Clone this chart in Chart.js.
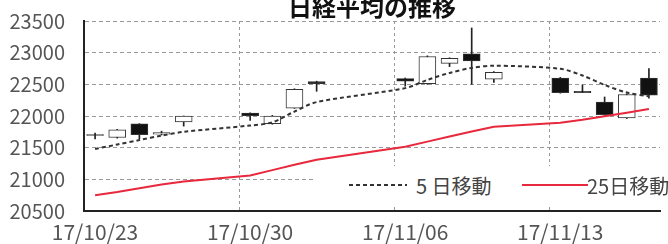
<!DOCTYPE html>
<html>
<head>
<meta charset="utf-8">
<script src="https://cdn.jsdelivr.net/npm/chart.js@4.4.1/dist/chart.umd.min.js"></script>
<style>
html, body { margin:0; padding:0; background:#fff; overflow:hidden; width:668px; height:244px; }
#wrap { position:absolute; left:0; top:-10px; width:668px; height:254px; }
#legend { position:absolute; left:315px; top:166px; width:353px; height:40px; background:#fff;
  font-family:'Noto Sans CJK JP', sans-serif; font-size:20px; color:#444; }
#legend .txt { position:absolute; top:10px; line-height:20px; white-space:nowrap; }
#legend svg { position:absolute; top:17px; }
</style>
</head>
<body>
<div id="wrap"><canvas id="c" width="668" height="254"></canvas></div>
<div id="legend">
  <svg style="left:34px" width="58" height="4"><line x1="0" y1="2" x2="58" y2="2" stroke="#333" stroke-width="2" stroke-dasharray="4,3"/></svg>
  <span class="txt" style="left:101px">5 日移動</span>
  <svg style="left:207px" width="66" height="4"><line x1="0" y1="2" x2="66" y2="2" stroke="#e8283c" stroke-width="2"/></svg>
  <span class="txt" style="left:272px">25日移動</span>
</div>
<script>
// 日足 (2017)
var dates  = ['10/23','10/24','10/25','10/26','10/27','10/30','10/31','11/01','11/02','11/06',
              '11/07','11/08','11/09','11/10','11/13','11/14','11/15','11/16','11/17'];
var openV  = [21705,21660,21875,21715,21906,22045,21880,22125,22545,22590,
              22510,22830,22980,22580,22600,22390,22220,21970,22600];
var highV  = [21730,21790,21880,21760,22000,22050,22010,22430,22550,22600,
              22950,22920,23390,22700,22610,22490,22300,22350,22750];
var lowV   = [21640,21650,21640,21700,21840,21930,21870,22120,22390,22470,
              22500,22780,22500,22530,22360,22370,22010,21960,22280];
var closeV = [21695,21780,21705,21740,22000,22005,22000,22420,22510,22548,
              22940,22910,22870,22690,22370,22370,22020,22340,22330];
var ma5    = [21480,21550,21620,21690,21750,21850,21900,22070,22220,22440,
              22570,22680,22760,22795,22745,22640,22490,22370,22310];
var ma25   = [20750,20800,20860,20920,20965,21060,21145,21230,21310,21515,
              21595,21675,21755,21830,21895,21940,21995,22050,22110];

var yTicks = [20500,21000,21500,22000,22500,23000,23500];
var xTickLabels = ['17/10/23','17/10/30','17/11/06','17/11/13'];

var FONT = "'Noto Sans CJK JP', sans-serif";
var base = Date.UTC(2017, 9, 23);
function dayOf(s) {
    var p = s.split('/');
    return Math.round((Date.UTC(2017, +p[0] - 1, +p[1]) - base) / 86400000);
}
var xs = dates.map(function (d) { return dayOf(d) + 0.5; });
var tickDays = xTickLabels.map(function (l) { return dayOf(l.slice(3)); });

var ctx = document.getElementById('c').getContext('2d');
var myChart = new Chart(ctx, {
    type: 'bar',
    data: {
        datasets: [{
            type: 'bar',
            label: 'wick',
            data: xs.map(function (x, i) { return {x: x, y: [lowV[i], highV[i]]}; }),
            backgroundColor: '#222',
            barThickness: 1,
            grouped: false,
            order: 3
        }, {
            type: 'bar',
            label: 'body',
            data: xs.map(function (x, i) { return {x: x, y: [openV[i], closeV[i]]}; }),
            backgroundColor: function (c) {
                var i = c.dataIndex;
                return closeV[i] >= openV[i] ? '#fff' : '#111';
            },
            borderColor: '#333',
            borderWidth: 1,
            borderSkipped: false,
            barThickness: 17,
            grouped: false,
            order: 2
        }, {
            type: 'line',
            label: '5日移動',
            data: xs.map(function (x, i) { return {x: x, y: ma5[i]}; }),
            borderColor: '#333',
            borderWidth: 2,
            borderDash: [4, 3],
            pointRadius: 0,
            tension: 0.3,
            order: 1
        }, {
            type: 'line',
            label: '25日移動',
            data: xs.map(function (x, i) { return {x: x, y: ma25[i]}; }),
            borderColor: '#e8283c',
            borderWidth: 2,
            pointRadius: 0,
            tension: 0,
            order: 0
        }]
    },
    options: {
        responsive: false,
        animation: false,
        layout: {padding: {left: 0, right: 8, top: 0, bottom: 0}},
        scales: {
            x: {
                type: 'linear',
                min: 0,
                max: 26,
                offset: false,
                afterBuildTicks: function (s) { s.ticks = tickDays.map(function (v) { return {value: v}; }); },
                afterFit: function (s) { s.height = 33; },
                grid: {
                    offset: false,
                    drawTicks: false,
                    color: function (c) { return c.index === 0 ? 'rgba(0,0,0,0)' : '#999'; }
                },
                border: {color: '#222', width: 2, dash: [3, 3]},
                ticks: {
                    padding: 8,
                    labelOffset: 11,
                    autoSkip: false,
                    maxRotation: 0,
                    color: '#555',
                    font: {family: FONT, size: 21},
                    callback: function (v, i) { return xTickLabels[i]; }
                }
            },
            y: {
                min: 20500,
                max: 23500,
                afterBuildTicks: function (s) { s.ticks = yTicks.map(function (v) { return {value: v}; }); },
                afterFit: function (s) { s.width = 84; },
                grid: {
                    drawTicks: false,
                    color: function (c) { return c.index === 0 ? 'rgba(0,0,0,0)' : '#999'; }
                },
                border: {color: '#222', width: 2, dash: [4, 3]},
                ticks: {
                    padding: 19,
                    color: '#555',
                    font: {family: FONT, size: 20},
                    callback: function (v) { return String(v); }
                }
            }
        },
        plugins: {
            legend: {display: false},
            tooltip: {enabled: false},
            title: {
                display: true,
                text: '日経平均の推移',
                fullSize: false,
                color: '#111',
                font: {family: FONT, size: 24, weight: 'bold'},
                padding: {top: 0, bottom: 0}
            }
        }
    }
});
</script>
</body>
</html>
